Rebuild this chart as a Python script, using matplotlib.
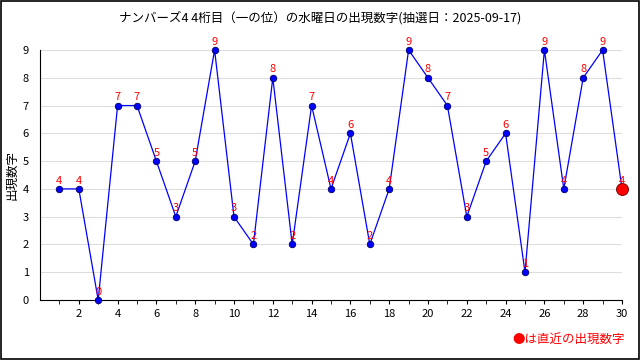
import matplotlib
matplotlib.use("Agg")
import matplotlib.pyplot as plt
from matplotlib.patches import Rectangle

plt.rcParams['font.family'] = ['Noto Sans CJK JP', 'DejaVu Sans']

# draw index and the digit that came up
draws = list(range(1, 31))
digits = [4, 4, 0, 7, 7, 5, 3, 5, 9, 3, 2, 8, 2, 7, 4, 6, 2, 4, 9, 8, 7, 3, 5, 6, 1, 9, 4, 8, 9, 4]
title = 'ナンバーズ4 4桁目（一の位）の水曜日の出現数字(抽選日：2025-09-17)'

fig = plt.figure(figsize=(6.4, 3.6), dpi=100)
ax = fig.add_axes([40 / 640, 60 / 360, 582 / 640, 250 / 360])

ax.plot(draws, digits, color='blue', lw=0.9, zorder=2, clip_on=False)
ax.scatter(draws[:-1], digits[:-1], s=22, color='blue', edgecolors='#000066', linewidths=0.6,
           zorder=3, clip_on=False)
ax.scatter(draws[-1:], digits[-1:], s=75, color='red', edgecolors='#660000', linewidths=0.6,
           zorder=4, clip_on=False)
for x, y in zip(draws, digits):
    ax.text(x, y + 0.12, str(y), color='red', fontsize=8, ha='center', va='bottom', zorder=5)

ax.set_xlim(0, 30)
ax.set_ylim(0, 9)
ax.set_xticks(range(2, 31, 2))
ax.set_xticks(range(1, 31), minor=True)
ax.set_yticks(range(0, 10))
ax.tick_params(axis='both', labelsize=8, length=3)
ax.tick_params(axis='y', length=0, pad=8)
ax.tick_params(axis='x', which='minor', length=3)
ax.yaxis.grid(True, color='#dddddd', lw=0.8, zorder=0)
ax.set_axisbelow(True)
for s in ['top', 'right']:
    ax.spines[s].set_visible(False)
ax.set_ylabel('出現数字', fontsize=9, va='center')
ax.yaxis.set_label_coords(-28 / 582, 0.5)

fig.text(0.5, 1 - 18 / 360, title, ha='center', va='center', fontsize=9)
fig.text(1 - 15 / 640, 1 - 339 / 360, '●は直近の出現数字', ha='right', va='center', fontsize=9, color='red')
fig.patches.append(Rectangle((0.001, 0.002), 0.997, 0.995, transform=fig.transFigure,
                             fill=False, edgecolor='black', lw=1.2))

fig.savefig('out.png', dpi=100)
